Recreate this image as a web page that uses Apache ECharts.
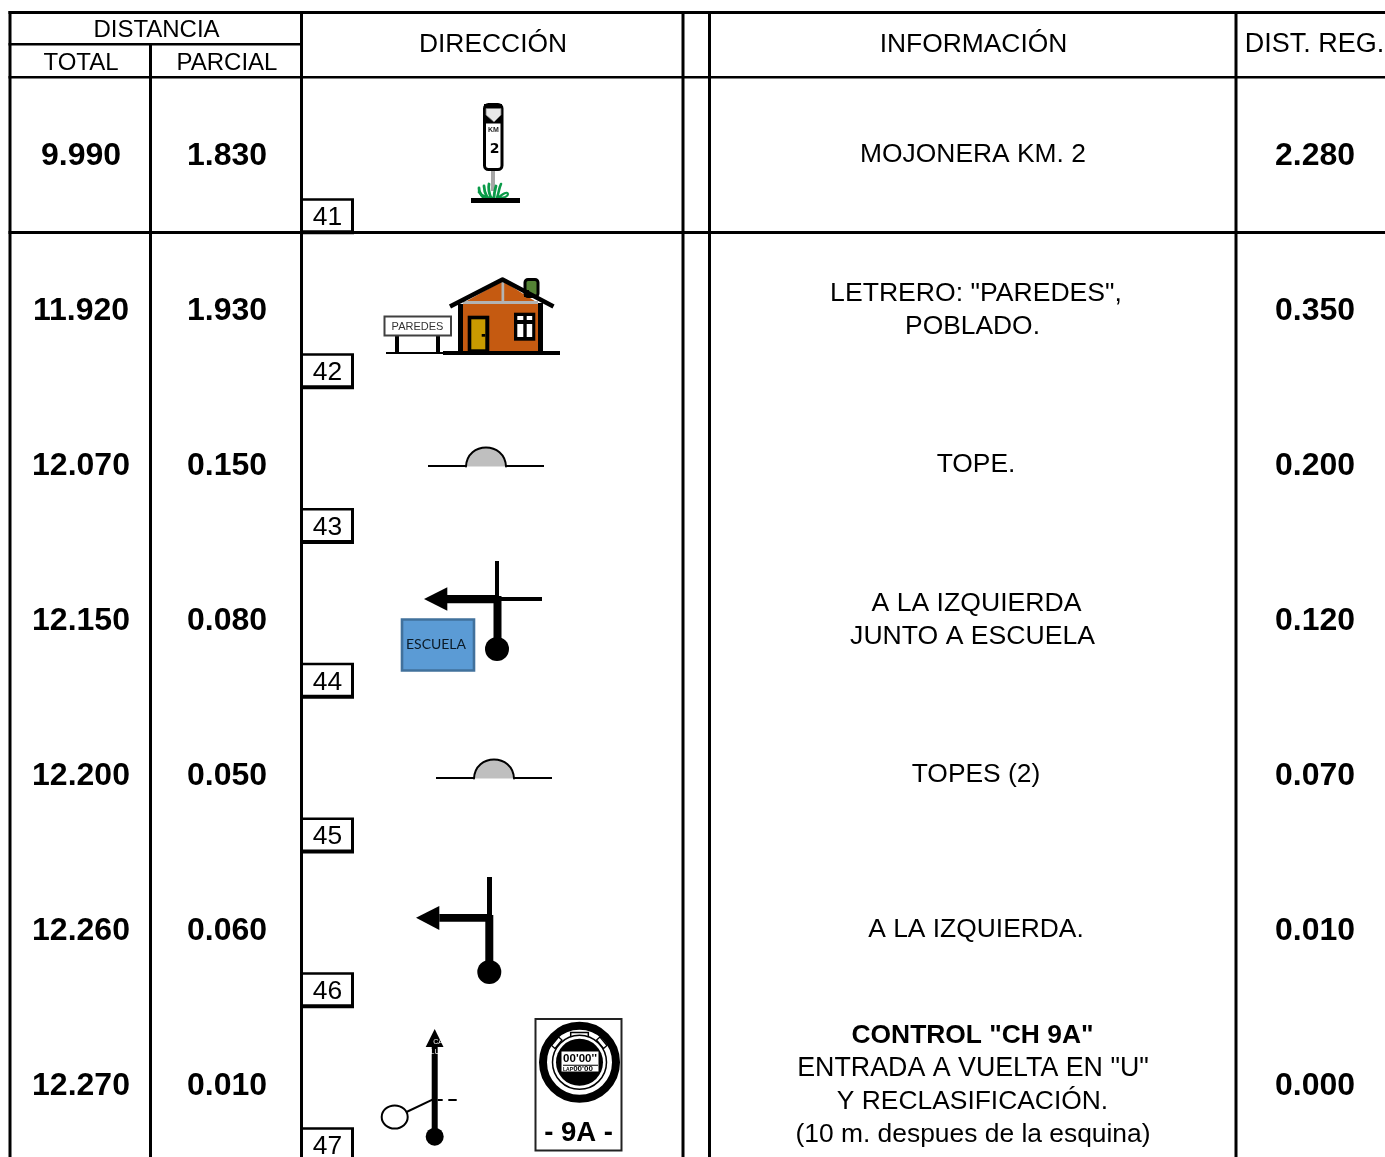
<!DOCTYPE html>
<html><head><meta charset="utf-8">
<style>html,body{margin:0;padding:0;background:#fff}#c{width:1385px;height:1157px}</style>
<script src="https://cdn.jsdelivr.net/npm/echarts@6/dist/echarts.min.js"></script>
</head><body><div id="c"></div>
<script>
const totals = ['9.990','11.920','12.070','12.150','12.200','12.260','12.270'];
const partials = ['1.830','1.930','0.150','0.080','0.050','0.060','0.010'];
const refs = ['41','42','43','44','45','46','47'];
const dists = ['2.280','0.350','0.200','0.120','0.070','0.010','0.000'];
const infoLines = [
  ['MOJONERA KM. 2'],
  ['LETRERO: "PAREDES",','POBLADO.'],
  ['TOPE.'],
  ['A LA IZQUIERDA','JUNTO A ESCUELA'],
  ['TOPES (2)'],
  ['A LA IZQUIERDA.'],
  ['CONTROL "CH 9A"','ENTRADA A VUELTA EN "U"','Y RECLASIFICACIÓN.','(10 m. despues de la esquina)']
];
const icons = ['mojonera','casa','tope','escuela','tope2','giro','control'];
const headerTop = ['DISTANCIA','DIRECCIÓN','INFORMACIÓN','DIST. REG.'];
const headerSub = ['TOTAL','PARCIAL'];
const FF = '"Liberation Sans", Arial, sans-serif';

const chart = echarts.init(document.getElementById('c'), null, {renderer:'canvas'});

function R(x,y,w,h,fill){return {type:'rect',shape:{x,y,width:w,height:h},style:{fill:fill,stroke:null}};}
function RS(x,y,w,h,fill,stroke,lw,r){return {type:'rect',shape:{x,y,width:w,height:h,r:r||0},style:{fill,stroke,lineWidth:lw}};}
function L(pts,stroke,lw,cap){return {type:'polyline',shape:{points:pts},style:{fill:null,stroke,lineWidth:lw,lineCap:cap||'butt',lineJoin:'round'}};}
function PG(pts,fill,stroke,lw){return {type:'polygon',shape:{points:pts},style:{fill,stroke:stroke||null,lineWidth:lw||0}};}
function C(cx,cy,r,fill,stroke,lw){return {type:'circle',shape:{cx,cy,r},style:{fill,stroke:stroke||null,lineWidth:lw||0}};}
function T(x,y,text,size,bold,fill,family,align){return {type:'text',style:{x,y:y+size*0.07,text,font:(bold?'bold ':'')+size+'px '+(family||FF),fill:fill||'#000',align:align||'center',verticalAlign:'middle'}};}
function P(d,fill,stroke,lw){return {type:'path',shape:{pathData:d},style:{fill:fill||null,stroke:stroke||null,lineWidth:lw||0,lineCap:'round'}};}

const drawIcon = {
  mojonera(){const g='#0a9a48';return [
    R(491,169,4,22,'#a6a6a6'),
    P('M483 197 C480 194 479 191 479 188','',g,2.8),
    P('M487 197 C485 193 484 190 484 186','',g,2.8),
    P('M491 198 C489 193 488 189 489 184','',g,2.8),
    P('M494 198 C494 193 495 190 496 186','',g,2.8),
    P('M497 198 C499 192 499 188 501 184','',g,2.6),
    P('M499 197 C503 194 507 191 508 194 C508 197 503 198 497 198','',g,2.2),
    P('M479 192 C482 196 486 198 492 198','',g,2.8),
    R(471,198,49,5,'#000'),
    RS(484.5,104.5,17.5,65,'#fff','#000',3,4),
    R(484,104,18,19.5,'#000'),
    PG([[486,108.5],[501,108.5],[501,115],[494,122],[486,115]],'#e8e8e8','#777',0.8),
    T(493.5,130,'KM',7,true,'#222'),
    T(494.5,148.5,'2',14,true,'#000','"DejaVu Sans", sans-serif')
  ];},
  casa(){return [
    PG([[463,303],[502.7,281],[538,303]],'#c55a11'),
    R(463,302,75,49,'#c55a11'),
    R(501.5,282,2.7,20,'#b3b3b3'),
    R(463,301,75,3,'#b3b3b3'),
    RS(525,279.5,13,17,'#548235','#000',3,3),
    R(524,290,5,7,'#000'),
    L([[450,306.5],[502.5,279.5],[553.5,306.5]],'#000',4.5),
    R(458,304,5,48,'#000'),
    R(538,303,5,49,'#000'),
    R(467.7,315.7,21.6,36,'#000'),
    R(471.3,319.3,14,30,'#c99a00'),
    R(481.7,334,3.5,2.7,'#000'),
    R(514,312.7,21.3,28,'#000'),
    R(517.3,316,6,4,'#fff'),R(526.7,316,5.5,4,'#fff'),
    R(517.3,324,6,13,'#fff'),R(526.7,324,5.5,13,'#fff'),
    R(443,351,117,4,'#000'),
    R(386,352,57,2,'#000'),
    R(395,335,4,17,'#000'),R(436,335,4,17,'#000'),
    RS(384.5,316.5,66.5,19,'#fff','#404040',2),
    T(417.5,325.8,'PAREDES',11,false,'#333')
  ];},
  tope(dx,dy){dx=dx||0;dy=dy||0;return [
    R(428+dx,465+dy,38,2,'#000'),
    R(506+dx,465+dy,38,2,'#000'),
    P(`M${466+dx} ${466.5+dy} C${467+dx} ${441+dy} ${505+dx} ${441+dy} ${506+dx} ${466.5+dy} Z`,'#bfbfbf'),
    P(`M${466+dx} ${466.5+dy} C${467+dx} ${441+dy} ${505+dx} ${441+dy} ${506+dx} ${466.5+dy}`,null,'#000',2)
  ];},
  tope2(){return drawIcon.tope(8,312);},
  escuela(){return [
    R(495,561,4,46,'#000'),
    R(499,597,43,4,'#000'),
    R(446.7,595,50.3,8.3,'#000'),
    PG([[424,599],[447.3,587.3],[447.3,610.7]],'#000'),
    R(493.5,596,8,46,'#000'),
    C(497,649,12,'#000'),
    RS(402,619.5,72,51,'#5b9bd5','#41719c',2.6),
    T(436,643.5,'ESCUELA',14,false,'#0b1a26','Lato, "Open Sans", sans-serif')
  ];},
  giro(){return [
    R(487,877,5,40,'#000'),
    R(439.3,914,51,7.7,'#000'),
    PG([[416,917.7],[439.3,906],[439.3,930]],'#000'),
    R(485.3,915,8,54,'#000'),
    C(489.3,972,12,'#000')
  ];},
  control(){return [
    R(431.7,1045,6,90,'#000'),
    PG([[434.7,1029],[443.5,1047],[425.7,1047]],'#000'),
    C(434.7,1136.7,9,'#000'),
    T(438,1042,'CA',7,false,'#fff'),
    T(435,1052,'LU',7,false,'#fff'),
    L([[433,1099.3],[406.5,1112]],'#000',2),
    {type:'ellipse',shape:{cx:394.7,cy:1117,rx:13,ry:11.5},style:{fill:'#fff',stroke:'#000',lineWidth:2}},
    R(437.7,1099,5,2,'#000'),
    R(448.3,1099,8.4,2,'#000'),
    RS(535.5,1019,86,131.5,'#fff','#222',2),
    C(579.5,1062.3,36.5,'#fff','#000',8),
    PG([[551.5,1045.5],[558.5,1037],[562,1040],[555,1048.5]],'#fff','#000',1.3),
    PG([[607,1045.5],[600,1037],[596.5,1040],[603.5,1048.5]],'#fff','#000',1.3),
    RS(570.7,1032.5,17.6,5,'#fff','#000',1.5),
    C(579.5,1062.3,27,'#fff','#000',1.5),
    C(579.5,1062.3,23.5,'#000'),
    R(561.5,1051.5,37,20,'#fff'),
    T(580,1058,"00'00''",11.5,true,'#000'),
    R(563,1064.8,35,1,'#000'),
    T(583,1068.5,"00'00",8,true,'#000'),
    T(568,1069,'LAP',5,true,'#000'),
    T(578.5,1131,'- 9A -',27.5,true,'#000')
  ];}
};

function renderRules(params, api){
  const o = api.coord([0,0]);
  const V = [8.5,149,300,681.5,708,1234.5];
  const kids = [];
  V.forEach(x=>{
    const top = x===149 ? 44 : 11;
    kids.push(R(x,top,3,1157-top,'#000'));
  });
  kids.push(R(8.5,11,1376.5,3,'#000'));
  kids.push(R(8.5,43,294,2.6,'#000'));
  kids.push(R(8.5,76,1376.5,2.6,'#000'));
  kids.push(R(8.5,231,1376.5,3,'#000'));
  return {type:'group',x:o[0],y:o[1],children:kids};
}

// per-line horizontal centre of the information column, as typeset in the original
const infoCentre = [[973],[976,972.5],[976],[976.5,972.5],[976],[976],[972.5,973,972.5,973]];
const infoSize = [[26.4],[26.6,26.4],[26.4],[26.6,26.6],[26.4],[26.4],[26.4,26.8,26.4,26.4]];

function renderRow(params, api){
  const i = params.dataIndex;
  const rowY = api.coord([0,api.value(0)])[1];
  const o = api.coord([0,0]);
  const k = [];
  k.push(T(81,rowY,totals[i],32,true));
  k.push(T(227,rowY,partials[i],32,true));
  k.push(T(1315,rowY,dists[i],32,true));
  const boxTop = rowY+44.3-(i>1?Math.min(i-1,4)*0.25:0);
  k.push(R(300,boxTop,54,Math.min(36,1157-boxTop),'#000'));
  k.push(R(303,boxTop+2.5,48,Math.min(29.5,1157-boxTop-2.5),'#fff'));
  k.push(T(327.5,boxTop+17.6,refs[i],26.4,false));
  const lines = infoLines[i];
  const gap = 33;
  const start = rowY - 0.7 - (lines.length-1)*gap/2;
  lines.forEach((s,j)=>{
    k.push(T(infoCentre[i][j],start+j*gap,s,infoSize[i][j],lines.length===4&&j===0));
  });
  drawIcon[icons[i]]().forEach(e=>k.push(e));
  return {type:'group',x:o[0],y:o[1],children:k};
}

function renderHeader(params, api){
  const o = api.coord([0,0]);
  return {type:'group',x:o[0],y:o[1],children:[
    T(156.5,28.5,headerTop[0],24,false),
    T(81,61.5,headerSub[0],24,false),
    T(227,61.5,headerSub[1],24,false),
    T(493,43,headerTop[1],26.4,false),
    T(973.5,43,headerTop[2],26.4,false),
    T(1314.5,43,headerTop[3],27,false)
  ]};
}

const rowCenters = [154,309,464,619,774,929,1084];

chart.setOption({
  animation:false,
  backgroundColor:'#fff',
  grid:{left:0,right:0,top:0,bottom:0,containLabel:false},
  xAxis:{type:'value',min:0,max:1385,show:false},
  yAxis:{type:'value',min:0,max:1157,inverse:true,show:false},
  series:[
    {type:'custom',coordinateSystem:'cartesian2d',silent:true,clip:false,data:[[0]],renderItem:renderRules,encode:{y:0},z:1},
    {type:'custom',coordinateSystem:'cartesian2d',silent:true,clip:true,data:rowCenters.map(v=>[v]),renderItem:renderRow,encode:{y:0},z:2},
    {type:'custom',coordinateSystem:'cartesian2d',silent:true,clip:false,data:[[0]],renderItem:renderHeader,encode:{y:0},z:3}
  ]
});
</script></body></html>
